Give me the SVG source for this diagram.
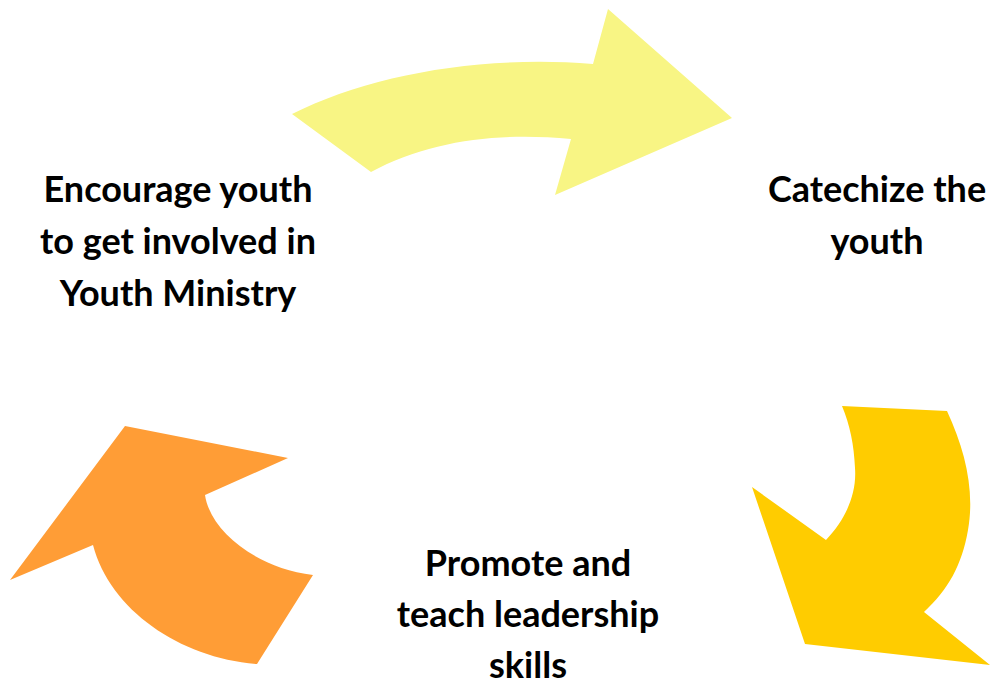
<svg xmlns="http://www.w3.org/2000/svg" width="990" height="685" viewBox="0 0 990 685">
<style>
.t{font-family:Lato,"Open Sans","Liberation Sans",sans-serif;font-weight:bold;font-size:36px;fill:#000;text-anchor:middle}
</style>
<rect width="990" height="685" fill="#fff"/>
<g id="connectors">
<path id="arrow-top" d="M292,114 C370,75 480,55 593,64 L608,9 L732,118 L555,195 L571,139 C500,132 430,140 371,172 Z" fill="#F8F584"/>
<path id="arrow-right" d="M842,406 L947,411 C965,450 975,490 968,530 C962,565 948,590 924,612 L990,665 L805,644 L752,487 L826,540 C845,520 857,495 855,468 C854,445 850,425 842,406 Z" fill="#FFCC00"/>
<path id="arrow-left" d="M125,426 L288,458 L205,495 C210,530 255,568 313,575 L257,664 C180,658 110,610 93,545 L10,580 Z" fill="#FF9D36"/>
</g>
<g id="node-encourage">
<text class="t" x="178" y="202">Encourage youth</text>
<text class="t" x="178" y="254">to get involved in</text>
<text class="t" x="178" y="306">Youth Ministry</text>
</g>
<g id="node-catechize">
<text class="t" x="877" y="202">Catechize the</text>
<text class="t" x="877" y="254">youth</text>
</g>
<g id="node-promote">
<text class="t" x="528" y="576">Promote and</text>
<text class="t" x="528" y="627">teach leadership</text>
<text class="t" x="528" y="678">skills</text>
</g>
</svg>
